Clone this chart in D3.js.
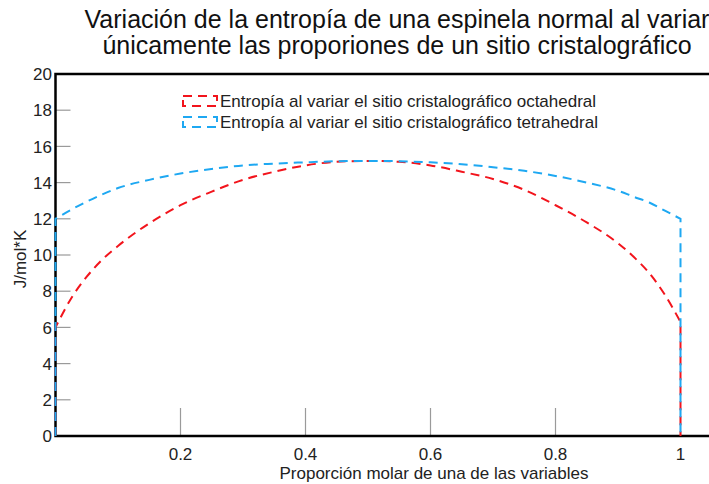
<!DOCTYPE html>
<html>
<head>
<meta charset="utf-8">
<script src="https://cdn.jsdelivr.net/npm/d3@7"></script>
<style>
  body { margin: 0; background: #fff; }
  svg { display: block; font-family: "Liberation Sans", Arial, sans-serif; }
</style>
</head>
<body>
<div id="chart"></div>
<script>
// proporcion molar (shared by both series)
var proporcion = [0, 0, 0.025, 0.05, 0.075, 0.1, 0.15, 0.2, 0.25, 0.3, 0.35, 0.4, 0.45, 0.5,
                  0.55, 0.6, 0.65, 0.7, 0.75, 0.8, 0.85, 0.9, 0.925, 0.95, 0.975, 1, 1];
var entropiaOcta = [0, 6.0, 7.6, 8.8, 9.75, 10.5, 11.75, 12.75, 13.5, 14.15, 14.6, 14.95, 15.15, 15.2,
                    15.15, 14.95, 14.6, 14.2, 13.6, 12.75, 11.8, 10.65, 9.9, 9.0, 7.8, 6.3, 0];
var entropiaTetra = [0, 12.0, 12.5, 12.95, 13.35, 13.7, 14.15, 14.5, 14.75, 14.95, 15.05, 15.12, 15.18, 15.2,
                     15.18, 15.12, 15.02, 14.85, 14.65, 14.37, 14.0, 13.55, 13.22, 12.9, 12.45, 12.0, 0];
var xTicks = [0.2, 0.4, 0.6, 0.8, 1];
var yTicks = [0, 2, 4, 6, 8, 10, 12, 14, 16, 18, 20];
var seriesNames = ["Entropía al variar el sitio cristalográfico octahedral",
                   "Entropía al variar el sitio cristalográfico tetrahedral"];
var colors = ["#f2141c", "#1ea8f2"];

var width = 709, height = 484;
var mLeft = 55.5, mTop = 74, mBottom = 436;

var x = d3.scaleLinear().domain([0, 1]).range([mLeft, 680.5]);
var y = d3.scaleLinear().domain([0, 20]).range([mBottom, mTop]);
var xEnd = x(1.1);

var svg = d3.select("#chart").append("svg")
  .attr("width", width)
  .attr("height", height);

// title
var title = svg.append("text")
  .attr("text-anchor", "middle")
  .attr("font-size", 25)
  .attr("fill", "#111");
title.append("tspan").attr("x", 397).attr("y", 28)
  .text("Variación de la entropía de una espinela normal al variar");
title.append("tspan").attr("x", 397).attr("y", 54)
  .text("únicamente las proporiones de un sitio cristalográfico");

// inner ticks
svg.selectAll(".ytick").data(yTicks.filter(function(d){ return d > 0 && d < 20; }))
  .enter().append("line")
  .attr("x1", mLeft).attr("x2", mLeft + 15)
  .attr("y1", function(d){ return y(d); }).attr("y2", function(d){ return y(d); })
  .attr("stroke", "#9a9a9a").attr("stroke-width", 1.2);

svg.selectAll(".xtick").data(xTicks)
  .enter().append("line")
  .attr("x1", function(d){ return x(d); }).attr("x2", function(d){ return x(d); })
  .attr("y1", mBottom).attr("y2", mBottom - 28)
  .attr("stroke", "#9a9a9a").attr("stroke-width", 1.2);

// tick labels
svg.selectAll(".ylab").data(yTicks)
  .enter().append("text")
  .attr("x", 52).attr("y", function(d){ return y(d); })
  .attr("dy", "0.36em")
  .attr("text-anchor", "end")
  .attr("font-size", 17)
  .attr("fill", "#222")
  .text(function(d){ return d; });

svg.selectAll(".xlab").data(xTicks)
  .enter().append("text")
  .attr("x", function(d){ return x(d); }).attr("y", 460)
  .attr("text-anchor", "middle")
  .attr("font-size", 17)
  .attr("fill", "#222")
  .text(function(d){ return d; });

// axis titles
svg.append("text")
  .attr("x", 434).attr("y", 479)
  .attr("text-anchor", "middle")
  .attr("font-size", 17)
  .attr("fill", "#222")
  .text("Proporción molar de una de las variables");

svg.append("text")
  .attr("transform", "translate(26,259) rotate(-90)")
  .attr("text-anchor", "middle")
  .attr("font-size", 17)
  .attr("fill", "#222")
  .text("J/mol*K");

// axes box
svg.append("path")
  .attr("d", "M" + xEnd + "," + mTop + "H" + mLeft + "V" + mBottom + "H" + xEnd)
  .attr("fill", "none")
  .attr("stroke", "#000")
  .attr("stroke-width", 2.5);

// curves: straight vertical ends, smooth interior
var straight = d3.line()
  .x(function(d){ return x(d[0]); })
  .y(function(d){ return y(d[1]); });
var smooth = d3.line()
  .x(function(d){ return x(d[0]); })
  .y(function(d){ return y(d[1]); })
  .curve(d3.curveMonotoneX);

[entropiaOcta, entropiaTetra].forEach(function(vals, i) {
  var pts = proporcion.map(function(p, j){ return [p, vals[j]]; });
  var n = pts.length;
  var d = straight(pts.slice(0, 2)) +
          smooth(pts.slice(1, n - 1)).replace(/^M/, "L") +
          "L" + x(pts[n - 1][0]) + "," + y(pts[n - 1][1]);
  svg.append("path")
    .attr("d", d)
    .attr("fill", "none")
    .attr("stroke", colors[i])
    .attr("stroke-width", 2)
    .attr("stroke-dasharray", "9,6");
});

// legend
var legend = svg.append("g").attr("transform", "translate(183,96)");
seriesNames.forEach(function(name, i) {
  var g = legend.append("g").attr("transform", "translate(0," + (i * 21) + ")");
  g.append("rect")
    .attr("x", 0).attr("y", 0)
    .attr("width", 34).attr("height", 10)
    .attr("fill", "none")
    .attr("stroke", colors[i])
    .attr("stroke-width", 2)
    .attr("stroke-dasharray", "9,6");
  g.append("text")
    .attr("x", 37).attr("y", 11)
    .attr("font-size", 17)
    .attr("fill", "#222")
    .text(name);
});
</script>
</body>
</html>
